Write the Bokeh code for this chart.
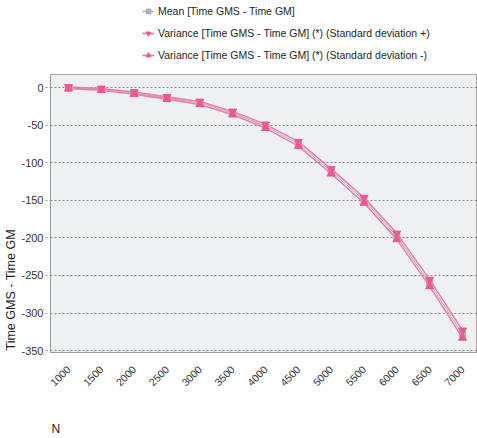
import math
from bokeh.plotting import figure
from bokeh.layouts import column
from bokeh.models import FixedTicker, Legend, LegendItem, Title, Label, Range1d, ColumnDataSource
from bokeh.embed import file_html
from bokeh.resources import INLINE

n_values = [1000, 1500, 2000, 2500, 3000, 3500, 4000, 4500, 5000, 5500, 6000, 6500, 7000]
mean_diff = [-0.5, -2.5, -7.5, -14, -20.5, -34, -51.5, -75, -111.5, -150, -198, -260, -328]
std_dev = [1.2, 1.2, 1.5, 1.5, 2, 2.2, 2.5, 3, 3.2, 3.6, 4, 4.5, 5]
y_ticks = [0, -50, -100, -150, -200, -250, -300, -350]
series_names = [
    "Mean [Time GMS - Time GM]",
    "Variance [Time GMS - Time GM] (*) (Standard deviation +)",
    "Variance [Time GMS - Time GM] (*) (Standard deviation -)",
]

plus = [m + s for m, s in zip(mean_diff, std_dev)]
minus = [m - s for m, s in zip(mean_diff, std_dev)]

src = ColumnDataSource(dict(n=n_values, mean=mean_diff, plus=plus, minus=minus))

FONT = "Liberation Sans"
PINK = "#ea5b8d"
PINK_LINE = "#ec76a0"
GRAY = "#b0b0b0"

# ---- legend strip (top) ----
pl = figure(width=477, height=74, output_backend="svg", toolbar_location=None,
            x_axis_type=None, y_axis_type=None, x_range=Range1d(0, 1), y_range=Range1d(0, 1),
            min_border=0)
pl.outline_line_color = None
pl.background_fill_color = "white"
pl.grid.visible = False
dummy = ColumnDataSource(dict(x=[-5], y=[-5]))
l0a = pl.line("x", "y", source=dummy, line_color=GRAY, line_width=1.5)
l0b = pl.scatter("x", "y", source=dummy, marker="square", size=6, color=GRAY)
l1a = pl.line("x", "y", source=dummy, line_color=PINK_LINE, line_width=1.6)
l1b = pl.scatter("x", "y", source=dummy, marker="inverted_triangle", size=8, color=PINK)
l2a = pl.line("x", "y", source=dummy, line_color=PINK_LINE, line_width=1.6)
l2b = pl.scatter("x", "y", source=dummy, marker="triangle", size=8, color=PINK)
legend = Legend(items=[
    LegendItem(label=series_names[0], renderers=[l0a, l0b]),
    LegendItem(label=series_names[1], renderers=[l1a, l1b]),
    LegendItem(label=series_names[2], renderers=[l2a, l2b]),
], location=(92, 12))
legend.background_fill_alpha = 0
legend.border_line_color = None
legend.padding = 0
legend.margin = 0
legend.spacing = 8
legend.glyph_width = 12
legend.glyph_height = 14
legend.label_height = 14
legend.label_standoff = 4
legend.label_text_font = FONT
legend.label_text_font_size = "10.5px"
legend.label_text_color = "#1e1e1e"
pl.add_layout(legend)

# ---- main chart ----
p = figure(width=477, height=344, output_backend="svg", toolbar_location=None,
           x_range=Range1d(726, 7228), y_range=Range1d(-352.4, 17.3),
           min_border_left=50, min_border_right=0, min_border_top=0, min_border_bottom=66)

p.background_fill_color = "#eef0f2"
p.border_fill_color = "white"
p.outline_line_color = "#a8a8a8"
p.outline_line_width = 1

p.xgrid.grid_line_color = None
p.ygrid.grid_line_color = "#8c8c8c"
p.ygrid.grid_line_dash = "2 2"
p.ygrid.grid_line_width = 1

p.yaxis.ticker = FixedTicker(ticks=y_ticks)
p.yaxis.major_label_overrides = {t: str(t) for t in y_ticks}
p.xaxis.ticker = FixedTicker(ticks=n_values)
p.xaxis.major_label_orientation = math.pi / 4
p.xaxis.major_label_text_font = FONT
p.xaxis.major_label_text_font_size = "10.5px"
p.xaxis.major_label_text_color = "#333333"
p.xaxis.major_label_standoff = 9
p.xaxis.major_tick_line_color = None
p.xaxis.minor_tick_line_color = None
p.xaxis.axis_line_color = "#9a9a9a"
p.xaxis.axis_line_width = 1

p.yaxis.major_label_text_font = FONT
p.yaxis.major_label_text_font_size = "11px"
p.yaxis.major_label_text_color = "#333333"
p.yaxis.major_label_standoff = 2
p.yaxis.axis_label_standoff = 0
p.yaxis.major_tick_out = 5
p.yaxis.major_tick_in = 0
p.yaxis.major_tick_line_color = "#999999"
p.yaxis.major_tick_line_dash = "2 2"
p.yaxis.minor_tick_line_color = None
p.yaxis.axis_line_color = "#9a9a9a"

p.line("n", "mean", source=src, line_color=GRAY, line_width=1)
p.scatter("n", "mean", source=src, marker="square", size=6, color=GRAY)
p.line("n", "plus", source=src, line_color=PINK_LINE, line_width=1.6, line_alpha=0.9)
p.line("n", "minus", source=src, line_color=PINK_LINE, line_width=1.6, line_alpha=0.9)
p.scatter("n", "plus", source=src, marker="inverted_triangle", size=8, color=PINK)
p.scatter("n", "minus", source=src, marker="triangle", size=8, color=PINK)

ytitle = Title(text="Time GMS - Time GM", align="left", offset=2, standoff=2,
               text_font=FONT, text_font_size="12.5px",
               text_font_style="normal", text_color="#1e1e1e")
p.add_layout(ytitle, "left")

# ---- bottom strip with axis name ----
pn = figure(width=477, height=20, output_backend="svg", toolbar_location=None,
            x_axis_type=None, y_axis_type=None, x_range=Range1d(0, 1), y_range=Range1d(0, 1),
            min_border=0)
pn.outline_line_color = None
pn.grid.visible = False
pn.add_layout(Label(x=1, y=10, x_units="screen", y_units="screen", text="N",
                    text_align="left", text_baseline="middle",
                    text_font=FONT, text_font_size="12px", text_color="#1e1e1e"))

layout = column(pl, p, pn, spacing=0)
open("out.html", "w").write(file_html(layout, INLINE))
